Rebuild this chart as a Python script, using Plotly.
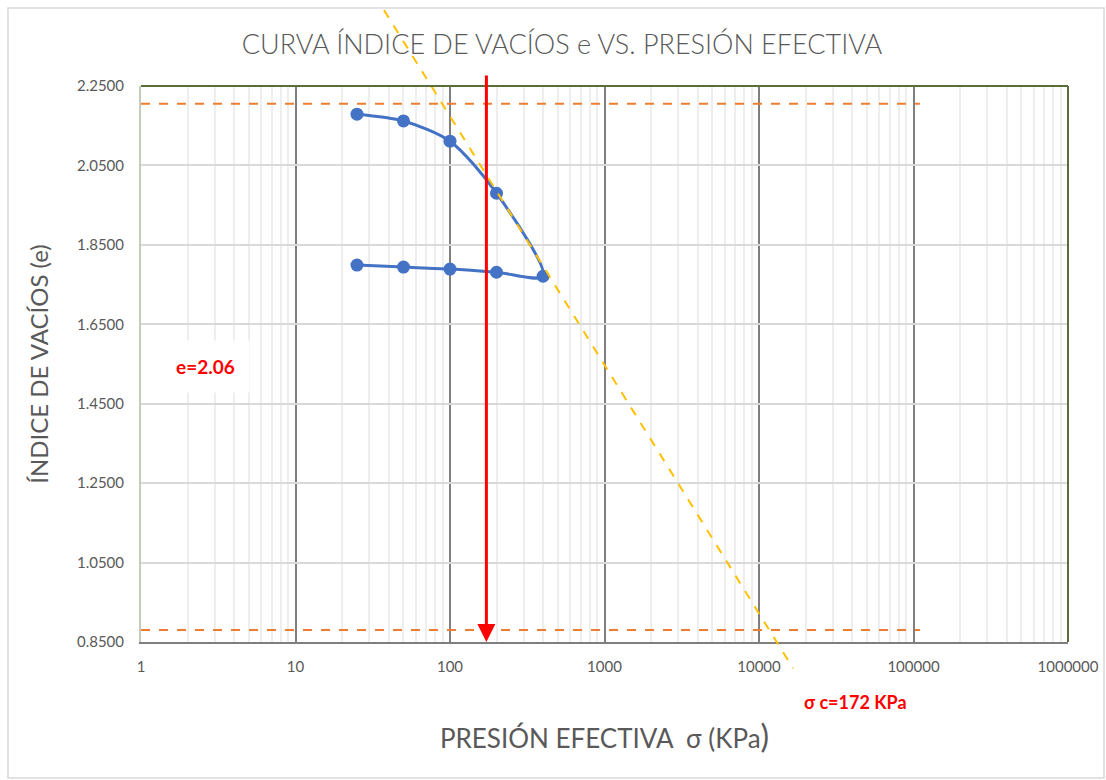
import math
import plotly.graph_objects as go

# Consolidation test: effective pressure (kPa) and void ratio
PRESSURE = [25, 50, 100, 200, 400, 200, 100, 50, 25]
VOID_RATIO = [2.179, 2.162, 2.111, 1.980, 1.771, 1.781, 1.789, 1.794, 1.799]

# Horizontal reference lines (void ratio) and their x extent
REF_X = [1, 110000]
REF_E_TOP = [2.205, 2.205]
REF_E_BOTTOM = [0.880, 0.880]

# Virgin compression line end points (pressure, void ratio)
CC_X = [37.4, 16600]
CC_E = [2.441, 0.784]

# Preconsolidation pressure and void ratio
SIGMA_C = 172
E_C = 2.06
ARROW_TOP_E = 2.28

X_TICKS = [1, 10, 100, 1000, 10000, 100000, 1000000]
X_TICK_TEXT = ["1", "10", "100", "1000", "10000", "100000", "1000000"]
Y_MIN, Y_MAX, Y_STEP = 0.85, 2.25, 0.2
X_LOG_RANGE = [0, 6]

W, H = 1106, 780
ML, MR, MT, MB = 141, 38, 86, 138
GREY_TXT = "#595959"
FONT = "Lato"

fig = go.Figure()

for ys in (REF_E_TOP, REF_E_BOTTOM):
    fig.add_trace(go.Scatter(
        x=REF_X, y=ys, mode="lines",
        line=dict(color="#ed7d31", width=2, dash="dash"),
        showlegend=False, hoverinfo="skip"))

fig.add_trace(go.Scatter(
    x=PRESSURE, y=VOID_RATIO, mode="lines+markers",
    line=dict(color="#4472c4", width=3, shape="spline", smoothing=0.8),
    marker=dict(color="#4472c4", size=13),
    showlegend=False))

# Compression line drawn in axis-domain units so it can run past the frame
def to_dom_x(v):
    return (math.log10(v) - X_LOG_RANGE[0]) / (X_LOG_RANGE[1] - X_LOG_RANGE[0])

def to_dom_y(v):
    return (v - Y_MIN) / (Y_MAX - Y_MIN)

fig.add_shape(type="line", xref="x domain", yref="y domain",
              x0=to_dom_x(CC_X[0]), y0=to_dom_y(CC_E[0]),
              x1=to_dom_x(CC_X[1]), y1=to_dom_y(CC_E[1]),
              line=dict(color="#ffc000", width=2, dash="dash"), layer="above")

# Plot frame: top and right edges
fig.add_shape(type="line", xref="x domain", yref="y domain", x0=0, x1=1, y0=1, y1=1,
              line=dict(color="#5a6e3a", width=2), layer="above")
fig.add_shape(type="line", xref="x domain", yref="y domain", x0=1, x1=1, y0=0, y1=1,
              line=dict(color="#5a6e3a", width=2), layer="above")

# Outer chart border
pw, ph = W - ML - MR, H - MT - MB


def px_to_paper(px, py):
    return (px - ML) / pw, (H - py - MB) / ph


bx0, by0 = px_to_paper(8, H - 2)
bx1, by1 = px_to_paper(W - 2, 8)
fig.add_shape(type="rect", xref="paper", yref="paper",
              x0=bx0, x1=bx1, y0=by0, y1=by1,
              line=dict(color="#d9d9d9", width=1.5), fillcolor="rgba(0,0,0,0)")

# Arrow marking the preconsolidation pressure
fig.add_annotation(x=math.log10(SIGMA_C), y=Y_MIN, xref="x", yref="y",
                   ax=math.log10(SIGMA_C), ay=ARROW_TOP_E, axref="x", ayref="y",
                   text="", showarrow=True, arrowhead=2, arrowsize=1.2,
                   arrowwidth=3, arrowcolor="#ff0000", standoff=0)

ex, ey = px_to_paper(205, 366)
fig.add_annotation(x=ex, y=ey, xref="paper", yref="paper", text=f"<b>e={E_C:.2f}</b>",
                   xanchor="center", yanchor="middle",
                   showarrow=False, font=dict(family=FONT, size=19, color="#ff0000"),
                   bgcolor="white", borderpad=14)
sx, sy = px_to_paper(855, 702)
fig.add_annotation(x=sx, y=sy, xref="paper", yref="paper", text=f"<b>σ c={SIGMA_C} KPa</b>",
                   xanchor="center", yanchor="middle",
                   showarrow=False, font=dict(family=FONT, size=18, color="#ff0000"))

fig.update_layout(
    width=W, height=H,
    margin=dict(l=ML, r=MR, t=MT, b=MB),
    paper_bgcolor="white", plot_bgcolor="white",
    font=dict(family=FONT, color=GREY_TXT),
    title=dict(text="CURVA ÍNDICE DE VACÍOS e VS. PRESIÓN EFECTIVA",
               x=562 / W, y=1 - 45 / H, xanchor="center", yanchor="middle",
               font=dict(family=FONT, size=27, color=GREY_TXT, weight=300)),
    xaxis=dict(
        type="log", range=X_LOG_RANGE, automargin=False,
        tickvals=X_TICKS, ticktext=X_TICK_TEXT,
        tickfont=dict(size=15, color=GREY_TXT), ticklabelstandoff=10,
        showgrid=True, gridcolor="#7f7f7f", gridwidth=2,
        minor=dict(dtick="D1", showgrid=True, gridcolor="#eeeeee", gridwidth=1.5),
        showline=True, linecolor="#7f7f7f", linewidth=2,
        ticks="", zeroline=False,
        title=dict(text="PRESIÓN EFECTIVA  σ (KPa<span style='font-size:32px'>)</span>",
                   font=dict(size=26, color=GREY_TXT), standoff=56),
    ),
    yaxis=dict(
        range=[Y_MIN, Y_MAX], tick0=Y_MIN, dtick=Y_STEP, tickformat=".4f",
        automargin=False,
        tickfont=dict(size=15, color=GREY_TXT), ticklabelstandoff=12,
        showgrid=True, gridcolor="#d9d9d9", gridwidth=1.5,
        showline=True, linecolor="#c3cbbb", linewidth=2,
        ticks="", zeroline=False,
        title=dict(text="ÍNDICE DE VACÍOS (e)", font=dict(size=24, color=GREY_TXT), standoff=22),
    ),
)

fig.write_html("out.html")
